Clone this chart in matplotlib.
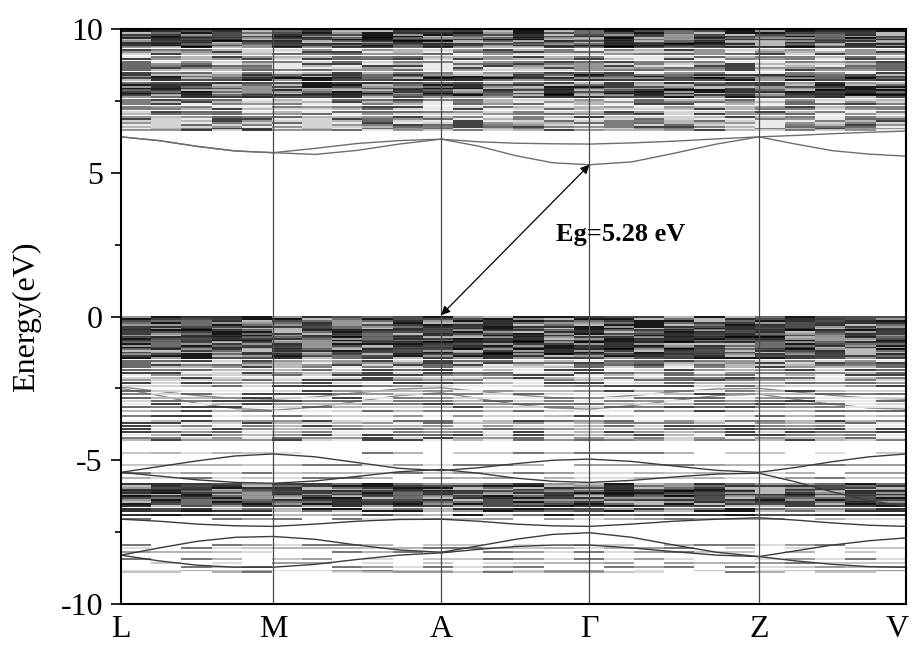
import numpy as np
import matplotlib
matplotlib.use("Agg")
import matplotlib.pyplot as plt
from matplotlib.collections import LineCollection
from matplotlib.transforms import ScaledTranslation

plt.rcParams['font.family'] = ['Liberation Serif', 'DejaVu Serif']
plt.rcParams['axes.unicode_minus'] = False

# high-symmetry points along the path
kpt_labels = ['L', 'M', 'A', 'Γ', 'Z', 'V']
kpt_pos = [0.0, 0.194, 0.408, 0.597, 0.813, 1.0]

# conduction-band manifold (eV), grouped by how crowded it is
cond_top = [9.93, 9.86, 9.80, 9.74, 9.68, 9.62, 9.57, 9.52, 9.47, 9.42, 9.36]
cond_mid = [9.28, 9.20, 9.12, 9.03, 8.95, 8.87, 8.80, 8.72, 8.64, 8.56, 8.48]
cond_dark = [8.41, 8.35, 8.29, 8.22, 8.14, 8.06, 7.99, 7.93, 7.87, 7.81, 7.75,
             7.69, 7.62]
cond_low = [7.54, 7.46, 7.38, 7.30, 7.21, 7.12, 7.03, 6.95, 6.88, 6.81, 6.74,
            6.67, 6.60, 6.54, 6.48]

# valence manifold below the Fermi level (eV)
val_top = [-0.03, -0.10, -0.17, -0.24, -0.30, -0.36, -0.42, -0.48, -0.54,
           -0.60, -0.66, -0.72, -0.78, -0.84, -0.90, -0.96, -1.02, -1.08,
           -1.14, -1.20, -1.26, -1.32, -1.38, -1.45]
val_low = [-1.53, -1.61, -1.69, -1.77, -1.86, -1.95, -2.04, -2.13, -2.22,
           -2.32, -2.42, -2.60, -2.70, -2.82, -2.94, -3.05, -3.15, -3.27,
           -3.45, -3.62, -3.72, -3.82, -3.92, -4.02, -4.12, -4.21, -4.30]

# deeper valence groups (eV)
deep_levels = [-5.84, -5.90, -5.96, -6.02, -6.08, -6.14, -6.20, -6.26, -6.32,
               -6.38, -6.44, -6.52, -6.60, -6.68, -6.78, -6.90]
sparse_levels = [-4.74, -5.17, -5.45, -5.62, -7.05, -7.95, -8.06, -8.20,
                 -8.45, -8.58, -8.70, -8.85, -8.90]

# dispersive bands, sampled at quarter points of each segment
band_c1 = [6.25, 6.12, 5.92, 5.76, 5.70, 5.64, 5.78, 6.00, 6.17, 5.93, 5.60,
           5.35, 5.28, 5.38, 5.68, 6.00, 6.25, 6.00, 5.77, 5.65, 5.58]
band_c2 = [6.25, 6.12, 5.92, 5.76, 5.70, 5.85, 6.02, 6.12, 6.17, 6.08, 6.03,
           6.01, 6.00, 6.04, 6.10, 6.18, 6.25, 6.30, 6.36, 6.41, 6.45]
band_v1 = [-2.45, -2.60, -2.75, -2.85, -2.88, -2.80, -2.65, -2.52, -2.48,
           -2.60, -2.72, -2.82, -2.85, -2.75, -2.62, -2.52, -2.50, -2.62,
           -2.74, -2.84, -2.88]
band_v2 = [-2.50, -2.75, -3.02, -3.20, -3.26, -3.15, -2.95, -2.75, -2.65,
           -2.85, -3.05, -3.18, -3.22, -3.10, -2.92, -2.75, -2.70, -2.88,
           -3.05, -3.18, -3.22]
band_m1 = [-5.42, -5.22, -5.02, -4.85, -4.78, -4.88, -5.08, -5.28, -5.36,
           -5.26, -5.12, -5.00, -4.96, -5.04, -5.20, -5.35, -5.42, -5.25,
           -5.05, -4.88, -4.78]
band_m2 = [-5.42, -5.55, -5.68, -5.77, -5.80, -5.72, -5.56, -5.40, -5.32,
           -5.45, -5.62, -5.73, -5.77, -5.70, -5.58, -5.48, -5.45, -5.75,
           -6.10, -6.40, -6.60]
band_d0 = [-7.05, -7.12, -7.22, -7.28, -7.30, -7.22, -7.12, -7.06, -7.05,
           -7.12, -7.22, -7.28, -7.30, -7.22, -7.12, -7.05, -7.00, -7.08,
           -7.18, -7.26, -7.30]
band_d1 = [-8.30, -8.05, -7.82, -7.68, -7.65, -7.75, -7.95, -8.12, -8.20,
           -7.98, -7.75, -7.58, -7.52, -7.68, -7.95, -8.20, -8.35, -8.15,
           -7.95, -7.80, -7.70]
band_d2 = [-8.30, -8.50, -8.65, -8.72, -8.72, -8.62, -8.45, -8.30, -8.22,
           -8.10, -8.00, -7.95, -7.95, -8.05, -8.18, -8.30, -8.35, -8.50,
           -8.62, -8.70, -8.72]

gap = 5.28

# k coordinate of each band sample
k = np.concatenate([np.linspace(a, b, 5)[:-1] for a, b in zip(kpt_pos[:-1], kpt_pos[1:])] + [[kpt_pos[-1]]])

fig = plt.figure(figsize=(9.13, 6.46), dpi=100)
ax = fig.add_axes([0.1325, 0.065, 0.8595, 0.89])

edges = np.linspace(0, 1, 27)


def draw_levels(levels, shades, lw=1.3, seed=0):
    # flat levels are split into short blocks with mixed grey shades
    segs, cols = [], []
    for i, e in enumerate(levels):
        ii = i + seed
        for j in range(len(edges) - 1):
            segs.append([(edges[j], e), (edges[j + 1], e)])
            cols.append(shades[((ii * 31 + j * 17) * (ii + 2 * j + 3)) % 97 % len(shades)])
    ax.add_collection(LineCollection(segs, colors=cols, linewidths=lw, zorder=1))


dark = ['#000000', '#1c1c1c', '#3a3a3a', '#5e5e5e', '#8c8c8c', '#2a2a2a', '#b4b4b4']
mid = ['#2e2e2e', '#5a5a5a', '#8a8a8a', '#b0b0b0', '#cfcfcf', '#707070', '#e8e8e8']
light = ['#8a8a8a', '#bcbcbc', '#ffffff', '#5c5c5c', '#d5d5d5', '#a5a5a5']

for b in (band_v1, band_v2):
    ax.plot(k, b, color='#8a8a8a', lw=1.0, zorder=0.5)

draw_levels(cond_top, dark, seed=0)
draw_levels(cond_mid, mid, seed=11)
draw_levels(cond_dark, dark, seed=22)
draw_levels(cond_low, mid, seed=35)
draw_levels(val_top, dark, seed=50)
draw_levels(val_low, mid, seed=74)
draw_levels(deep_levels, dark, seed=101)
draw_levels(sparse_levels, light, lw=1.2, seed=117)

for b in (band_m1, band_m2, band_d0, band_d1, band_d2):
    ax.plot(k, b, color='#3c3c3c', lw=1.0, zorder=2)
for b in (band_c1, band_c2):
    ax.plot(k, b, color='#6e6e6e', lw=1.0, zorder=2)

for x in kpt_pos[1:-1]:
    ax.axvline(x, color='#4a4a4a', lw=0.9, zorder=3)

# band gap arrow from VBM (A) to CBM (Gamma)
ax.annotate('', xy=(kpt_pos[3], gap), xytext=(kpt_pos[2], 0.05),
            arrowprops=dict(arrowstyle='<|-|>', color='black', lw=0.9,
                            mutation_scale=13, shrinkA=0, shrinkB=0), zorder=4)
ax.text(0.637, 2.87, 'Eg=%.2f eV' % gap, fontsize=19, fontweight='bold',
        ha='center', va='center', zorder=4)

ax.set_xlim(0, 1)
ax.set_ylim(-10, 10)
ax.set_xticks(kpt_pos)
ax.set_xticklabels(kpt_labels)
ax.set_yticks([-10, -5, 0, 5, 10])
ax.set_yticks([-7.5, -2.5, 2.5, 7.5], minor=True)
ax.tick_params(axis='x', length=0, pad=8, labelsize=23)
ax.tick_params(axis='y', which='major', length=7, width=1.2, pad=6, labelsize=23)
ax.tick_params(axis='y', which='minor', length=4, width=1.2)
ax.set_ylabel('Energy(eV)', fontsize=23, labelpad=14)
for s in ax.spines.values():
    s.set_linewidth(1.5)
    s.set_zorder(5)

# keep the last k label inside the figure
last = ax.get_xticklabels()[-1]
last.set_transform(last.get_transform() + ScaledTranslation(-6 / 72, 0, fig.dpi_scale_trans))

fig.savefig('out.png', dpi=100)
